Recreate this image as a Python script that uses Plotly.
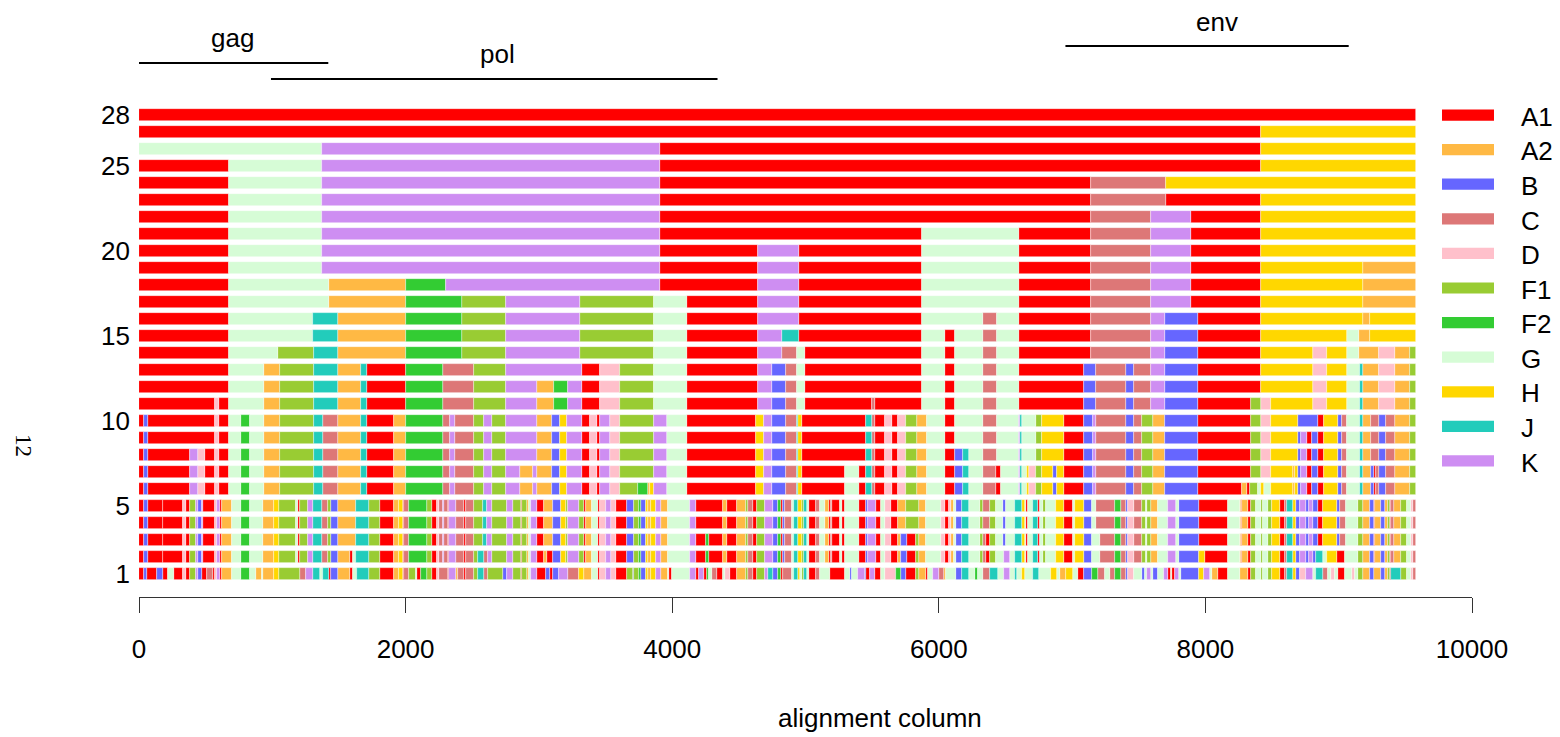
import plotly.graph_objects as go

# ---------------- data ----------------
subtypes = ["A1", "A2", "B", "C", "D", "F1", "F2", "G", "H", "J", "K"]
colors = ["#FF0000", "#FFB944", "#6666FF", "#DD7777", "#FFC0CB", "#99CC33",
          "#33CC33", "#D6FCD6", "#FFD700", "#22CCBB", "#CE8EF2"]

# each row: "subtype:end_column" segments, each segment starts where the previous one ended
row28 = "A1:9580"
row27 = "A1:8415 H:9580"
row26 = "G:1372 K:3912 A1:8415 H:9580"
row25 = "A1:678 G:1372 K:3912 A1:8415 H:9580"
row24 = "A1:678 G:1372 K:3912 A1:7142 C:7702 H:9580"
row23 = "A1:678 G:1372 K:3912 A1:7142 C:7702 A1:8415 H:9580"
row22 = "A1:678 G:1372 K:3912 A1:7142 C:7590 K:7890 A1:8415 H:9580"
row21 = "A1:678 G:1372 K:3912 A1:5872 G:6598 A1:7142 C:7590 K:7890 A1:8415 H:9580"
row20 = "A1:678 G:1372 K:3912 A1:4645 K:4948 A1:5872 G:6598 A1:7142 C:7590 K:7890 A1:8415 H:9580"
row19 = "A1:678 G:1372 K:3912 A1:4645 K:4948 A1:5872 G:6598 A1:7142 C:7590 K:7890 A1:8415 H:9182 A2:9580"
row18 = ("A1:678 G:1429 A2:2002 F2:2303 K:3912 A1:4645 K:4948 A1:5872 G:6598 A1:7142 C:7590 "
         "K:7890 A1:8415 H:9182 A2:9580")
row17 = ("A1:678 G:1429 A2:2002 F2:2423 F1:2752 K:3311 F1:3866 G:4111 A1:4645 K:4948 A1:5872 "
         "G:6598 A1:7142 C:7590 K:7890 A1:8415 H:9182 A2:9580")
row16 = ("A1:678 G:1308 J:1493 A2:2002 F2:2423 F1:2752 K:3311 F1:3866 G:4111 A1:4645 K:4948 "
         "A1:5872 G:6333 C:6434 G:6598 A1:7142 C:7590 K:7696 B:7947 A1:8415 H:9182 A2:9236 H:9580")
row15 = ("A1:678 G:1308 J:1493 A2:2002 F2:2423 F1:2752 K:3311 F1:3866 G:4111 A1:4645 K:4820 "
         "J:4948 A1:5872 G:6046 A1:6119 G:6333 C:6434 G:6598 A1:7142 C:7590 K:7696 B:7947 "
         "A1:8415 H:9059 G:9156 A2:9236 H:9580")
row14 = ("A1:678 G:1042 F1:1310 J:1493 A2:2004 F2:2425 F1:2752 K:3311 F1:3866 G:4111 A1:4645 "
         "K:4823 C:4935 G:4997 A1:5873 G:6046 A1:6119 G:6334 C:6436 G:6598 A1:7141 C:7593 "
         "K:7694 B:7947 A1:8415 H:8805 D:8911 H:9059 G:9156 A2:9303 D:9424 A2:9536 F1:9580")
row13 = ("A1:678 G:934 A2:1055 F1:1310 J:1493 A2:1664 J:1714 A1:2000 F2:2283 C:2513 F1:2752 "
         "K:3327 A1:3458 D:3607 F1:3866 G:4111 A1:4645 K:4751 B:4854 C:4935 G:4997 A1:5873 "
         "G:6046 A1:6119 G:6334 C:6436 G:6598 A1:7089 B:7183 C:7406 B:7465 C:7593 K:7694 "
         "B:7947 A1:8415 H:8805 D:8911 H:9059 G:9160 J:9185 A2:9303 D:9424 A2:9536 F1:9580")
row12 = ("A1:678 G:934 A2:1055 F1:1310 J:1493 A2:1664 J:1714 A1:2000 F2:2283 C:2513 F1:2752 "
         "K:2986 A2:3110 F2:3219 K:3327 A1:3458 D:3607 F1:3866 G:4111 A1:4645 K:4751 B:4854 "
         "C:4935 G:4997 A1:5873 G:6046 A1:6119 G:6334 C:6436 G:6598 A1:7089 B:7183 C:7406 "
         "B:7465 C:7593 K:7694 B:7947 A1:8415 H:8805 D:8911 H:9059 G:9160 J:9185 A2:9303 "
         "D:9424 A2:9536 F1:9580")
row11 = ("A1:570 D:598 A1:678 G:934 A2:1055 F1:1310 J:1493 A2:1664 J:1714 A1:2000 F2:2283 "
         "C:2513 F1:2752 K:2986 A2:3110 F2:3219 K:3327 A1:3458 D:3607 F1:3866 G:4111 A1:4645 "
         "K:4751 B:4854 C:4935 G:4997 A1:5497 C:5525 A1:5873 G:6046 A1:6119 G:6334 C:6436 "
         "G:6598 A1:7089 B:7183 C:7406 B:7465 C:7593 K:7694 B:7947 A1:8339 F1:8415 D:8495 "
         "H:8805 D:8911 H:9059 G:9160 J:9185 A2:9303 D:9424 A2:9536 F1:9580")
row10 = ("A1:41 B:66 A1:570 D:598 A1:678 G:766 F2:834 G:934 A2:1055 F1:1310 J:1378 C:1493 "
         "A2:1664 J:1714 A1:1916 A2:2004 F2:2283 C:2330 K:2373 C:2513 F1:2585 K:2650 F1:2752 "
         "K:2986 A2:3097 B:3160 H:3212 K:3327 A1:3383 D:3436 A1:3458 K:3536 D:3607 F1:3866 "
         "K:3959 G:4111 A1:4627 H:4689 K:4751 B:4854 C:4935 J:4947 H:4972 A1:5454 J:5497 "
         "C:5525 A1:5594 D:5647 A1:5696 D:5752 F1:5833 A2:5911 G:6046 A1:6119 G:6334 C:6436 "
         "G:6598 K:6610 J:6626 G:6732 F1:6775 H:6937 A1:7089 B:7155 K:7183 C:7406 B:7465 "
         "C:7528 F1:7609 A2:7694 B:7947 A1:8339 F1:8415 D:8495 H:8694 B:8843 A1:8886 H:8992 "
         "B:9023 C:9059 G:9160 J:9185 A2:9241 C:9303 B:9353 C:9424 A2:9536 F1:9580")
row09 = ("A1:41 B:66 A1:570 D:598 A1:678 G:766 F2:834 G:934 A2:1055 F1:1310 J:1378 C:1493 "
         "A2:1664 J:1714 A1:1916 A2:2004 F2:2283 C:2330 K:2373 C:2513 F1:2585 K:2650 F1:2752 "
         "K:2986 A2:3097 B:3160 H:3212 K:3327 A1:3383 D:3436 A1:3458 K:3536 D:3607 F1:3866 "
         "K:3959 G:4111 A1:4627 H:4689 K:4751 B:4854 C:4935 J:4947 H:4972 A1:5454 J:5497 "
         "C:5525 A1:5594 D:5647 A1:5696 D:5752 F1:5833 A2:5911 G:6046 A1:6119 G:6334 C:6436 "
         "G:6598 K:6610 J:6626 G:6732 F1:6775 H:6937 A1:7089 B:7155 K:7183 C:7406 B:7465 "
         "C:7528 F1:7609 A2:7694 B:7947 A1:8339 F1:8415 D:8495 H:8694 B:8718 K:8765 A1:8799 "
         "B:8843 A1:8886 H:8992 B:9023 C:9059 G:9160 J:9185 A2:9241 C:9303 B:9353 C:9424 "
         "A2:9536 F1:9580")
row08 = ("A1:41 B:66 A1:383 K:439 D:498 A1:570 D:598 A1:678 G:766 F2:834 G:934 A2:1055 "
         "F1:1310 J:1378 C:1493 A2:1664 J:1714 A1:1916 A2:2004 F2:2283 C:2330 K:2373 C:2513 "
         "F1:2585 K:2650 F1:2752 K:2986 A2:3097 B:3160 H:3212 K:3327 A1:3383 D:3436 A1:3458 "
         "K:3536 D:3607 F1:3866 K:3959 G:4111 A1:4627 H:4689 K:4751 B:4854 C:4935 J:4947 "
         "H:4972 A1:5454 J:5497 C:5525 A1:5594 D:5647 A1:5696 D:5752 F1:5833 A2:5911 G:6046 "
         "A1:6119 B:6185 J:6225 G:6334 C:6436 G:6598 K:6610 J:6626 G:6732 F1:6775 H:6937 "
         "A1:7089 B:7155 K:7183 C:7406 B:7465 C:7528 F1:7609 A2:7694 B:7947 A1:8339 F1:8415 "
         "D:8495 H:8694 B:8718 K:8765 A1:8799 B:8843 A1:8886 H:8992 B:9023 C:9059 G:9160 "
         "J:9185 A2:9241 C:9303 B:9353 C:9424 A2:9536 F1:9580")
row07 = ("A1:41 B:66 A1:383 K:439 D:498 A1:570 D:598 A1:678 G:766 F2:834 G:934 A2:1055 "
         "F1:1310 J:1378 C:1493 A2:1664 J:1714 A1:1916 A2:2004 F2:2283 C:2330 K:2373 C:2513 "
         "F1:2585 K:2650 F1:2752 K:2855 A2:2955 K:2986 A2:3097 B:3160 H:3212 K:3327 A1:3383 "
         "D:3436 A1:3458 K:3536 D:3607 F1:3866 K:3959 G:4111 A1:4627 H:4689 K:4751 B:4854 "
         "C:4935 J:4947 H:4972 A1:5299 G:5401 A1:5454 J:5497 C:5525 A1:5594 D:5647 A1:5696 "
         "D:5752 F1:5833 A2:5911 G:6046 A1:6119 B:6185 J:6225 G:6334 C:6427 A1:6464 G:6598 "
         "K:6610 J:6626 G:6660 H:6676 D:6732 F1:6775 H:6853 B:6887 H:6937 A1:7089 B:7155 "
         "K:7183 C:7406 B:7465 C:7528 F1:7609 A2:7694 B:7947 A1:8339 F1:8415 D:8495 H:8657 "
         "A2:8672 H:8694 B:8718 K:8765 A1:8799 B:8843 A1:8886 H:8992 B:9023 C:9059 G:9160 "
         "J:9185 A2:9241 B:9263 A1:9278 C:9303 B:9353 C:9424 A2:9536 F1:9580")
row06 = ("A1:41 B:66 A1:383 K:439 D:498 A1:570 D:598 A1:678 G:766 F2:834 G:934 A2:1055 "
         "F1:1310 J:1378 C:1493 A2:1664 J:1714 A1:1916 A2:2004 F2:2283 C:2330 K:2373 C:2513 "
         "F1:2585 K:2650 F1:2752 K:2855 A2:2955 K:2986 A2:3097 B:3160 H:3212 K:3327 A1:3383 "
         "D:3436 A1:3458 K:3536 D:3607 F1:3744 F2:3819 A2:3837 H:3866 K:3959 G:4111 A1:4627 "
         "H:4689 K:4751 B:4854 C:4935 J:4947 H:4972 A1:5299 G:5401 A1:5454 J:5497 C:5525 "
         "A1:5594 D:5647 A1:5696 D:5752 F1:5833 A2:5911 G:6046 A1:6119 B:6185 J:6225 G:6334 "
         "C:6427 A1:6464 G:6598 K:6610 J:6626 G:6660 H:6676 D:6732 F1:6775 H:6853 B:6887 "
         "H:6937 A1:7089 B:7155 K:7183 C:7406 B:7465 C:7528 F1:7609 A2:7694 B:7947 A1:8277 "
         "A2:8314 A1:8333 F1:8392 G:8415 H:8438 G:8495 H:8657 A2:8672 H:8694 B:8718 K:8765 "
         "A1:8799 B:8843 A1:8886 H:8992 B:9023 C:9059 G:9160 J:9185 A2:9241 B:9263 A1:9278 "
         "C:9303 B:9353 C:9424 A2:9536 F1:9580")
row05 = ("A1:40 B:65 A1:180 A1:328 D:353 A1:383 F1:428 K:440 B:470 K:483 A1:570 D:588 K:605 "
         "A1:625 A2:698 G:765 F2:832 G:932 A2:1015 H:1053 F1:1178 G:1190 A1:1205 F1:1265 "
         "K:1308 J:1375 C:1420 F1:1443 B:1495 A2:1625 J:1728 F1:1808 A1:1915 A2:1948 H:1978 "
         "A1:1988 C:2028 F2:2163 F1:2195 A1:2238 D:2253 C:2283 K:2290 C:2320 A1:2328 K:2378 "
         "C:2440 A1:2450 C:2515 F1:2583 J:2608 K:2650 F1:2758 K:2808 F1:2865 A1:2875 F1:2908 "
         "A2:2925 G:2940 K:2983 A1:3038 A2:3103 B:3165 H:3203 F1:3220 K:3300 F1:3340 A1:3350 "
         "A2:3400 G:3440 A1:3455 D:3500 K:3540 D:3575 A1:3658 B:3715 F1:3750 F2:3765 B:3800 "
         "H:3820 A2:3840 H:3878 K:3915 A2:3965 G:4135 K:4175 A1:4383 A2:4408 A1:4483 A2:4553 "
         "F1:4570 C:4603 A1:4633 F1:4695 K:4753 B:4790 F2:4815 A1:4828 B:4848 C:4900 G:4912 "
         "J:4945 H:4970 F1:4987 J:5012 G:5027 A1:5077 C:5107 G:5145 A2:5177 A1:5190 C:5202 "
         "A1:5262 G:5277 A1:5295 G:5400 A1:5452 B:5470 K:5532 A1:5570 G:5595 D:5645 A1:5695 "
         "A2:5752 F1:5852 A2:5907 G:6020 D:6045 A1:6077 D:6090 A2:6112 G:6132 B:6177 J:6227 "
         "G:6307 F1:6332 C:6387 F1:6432 G:6482 B:6507 G:6570 J:6627 H:6645 G:6657 A1:6670 "
         "G:6707 J:6745 A1:6762 G:6782 F1:6802 G:6882 H:6937 A1:7007 G:7020 H:7087 B:7152 "
         "G:7182 C:7320 F2:7365 C:7402 B:7420 D:7465 C:7525 F1:7557 G:7565 F1:7595 A2:7645 "
         "G:7720 K:7782 G:7800 B:7950 A1:8170 G:8257 A2:8270 A1:8275 A2:8320 A1:8340 F1:8382 "
         "G:8420 F1:8432 G:8470 F1:8500 H:8557 A1:8595 C:8615 J:8657 H:8682 B:8707 K:8757 "
         "B:8775 K:8807 B:8845 A1:8882 H:8990 B:9007 C:9057 G:9145 F1:9182 A2:9232 B:9265 "
         "A1:9275 A2:9320 B:9345 A2:9370 F1:9382 A1:9390 C:9415 A2:9465 F1:9515 G:9540 "
         "D:9557 C:9580")
row04 = row05
row03 = ("A1:40 B:65 A1:180 A1:328 D:353 A1:383 F1:428 K:440 B:470 K:483 A1:570 D:588 K:605 "
         "A1:625 A2:698 G:765 F2:832 G:932 A2:1015 H:1053 F1:1178 G:1190 A1:1205 F1:1265 "
         "K:1308 J:1375 C:1420 F1:1443 B:1495 A2:1625 J:1728 F1:1808 A1:1915 A2:1948 H:1978 "
         "A1:1988 C:2028 F2:2163 F1:2195 A1:2238 D:2253 C:2283 K:2290 C:2320 A1:2328 K:2378 "
         "C:2440 A1:2450 C:2515 F1:2583 J:2608 K:2650 F1:2758 K:2808 F1:2865 A1:2875 F1:2908 "
         "A2:2925 G:2940 K:2983 A1:3038 A2:3103 B:3165 H:3203 F1:3220 K:3300 F1:3340 A1:3350 "
         "A2:3400 G:3440 A1:3455 D:3500 K:3540 D:3575 A1:3658 B:3715 F1:3750 F2:3765 B:3800 "
         "H:3820 A2:3840 H:3878 K:3915 A2:3965 G:4135 K:4175 A1:4250 F2:4275 A1:4383 A2:4408 "
         "A1:4483 A2:4553 F1:4570 C:4603 A1:4633 F1:4695 K:4753 B:4790 F2:4815 A1:4828 B:4848 "
         "C:4900 G:4912 J:4945 H:4970 F1:4987 J:5012 G:5027 A1:5077 C:5107 G:5145 A2:5177 "
         "A1:5190 C:5202 A1:5262 G:5277 A1:5295 G:5400 A1:5452 B:5470 K:5532 A1:5570 G:5595 "
         "D:5645 A1:5695 A2:5720 B:5762 A1:5832 F1:5852 A2:5907 G:6020 D:6045 A1:6077 D:6090 "
         "A2:6112 G:6132 B:6177 J:6227 G:6307 F1:6332 C:6357 A1:6387 F1:6432 G:6482 B:6507 "
         "G:6570 J:6627 H:6645 G:6657 A1:6670 G:6707 J:6745 A1:6762 G:6782 F1:6802 G:6882 "
         "H:6937 A1:7007 G:7020 H:7087 B:7152 G:7207 C:7320 F2:7365 C:7402 B:7420 D:7465 "
         "C:7525 F1:7557 G:7565 F1:7595 A2:7645 G:7720 K:7782 G:7800 B:7950 A1:8170 G:8257 "
         "A2:8270 A1:8275 A2:8320 A1:8340 F1:8382 G:8420 F1:8432 G:8470 F1:8500 H:8557 "
         "A1:8595 C:8615 J:8657 H:8682 B:8707 K:8757 B:8775 K:8807 B:8845 A1:8882 H:8990 "
         "B:9007 C:9057 G:9145 F1:9182 A2:9232 B:9265 A1:9275 A2:9320 B:9345 A2:9370 F1:9382 "
         "A1:9390 C:9415 A2:9465 F1:9515 G:9540 D:9557 C:9580")
row02 = ("A1:40 B:65 A1:180 A1:328 D:353 A1:383 F1:428 K:440 B:470 K:483 A1:570 D:588 K:605 "
         "A1:625 A2:698 G:765 F2:832 G:932 A2:1015 H:1053 F1:1178 G:1190 A1:1205 F1:1265 "
         "K:1308 J:1375 C:1420 F1:1443 B:1495 A2:1583 A1:1603 G:1625 J:1728 F1:1808 A1:1915 "
         "A2:1948 H:1978 A1:1988 C:2028 F2:2163 F1:2195 A1:2238 D:2253 C:2283 K:2290 C:2320 "
         "A1:2328 K:2378 C:2440 A1:2450 C:2515 F1:2545 J:2590 C:2620 K:2650 F1:2758 K:2808 "
         "F1:2865 A1:2875 F1:2908 A2:2925 G:2940 K:2983 A1:3040 A2:3058 A1:3103 B:3165 H:3203 "
         "F1:3220 K:3300 F1:3340 A1:3350 A2:3400 G:3440 A1:3455 D:3500 K:3540 D:3575 A1:3658 "
         "B:3715 F1:3750 F2:3765 B:3800 H:3820 A2:3840 H:3878 K:3915 A2:3965 G:4135 K:4175 "
         "A1:4250 F2:4275 A1:4383 A2:4408 A1:4483 A2:4553 F1:4570 C:4603 A1:4633 F1:4695 "
         "K:4753 B:4790 F2:4815 A1:4828 B:4848 C:4900 G:4912 J:4945 H:4970 F1:4987 J:5012 "
         "G:5027 A1:5077 C:5107 G:5145 A2:5177 A1:5190 C:5202 A1:5262 G:5277 A1:5295 G:5400 "
         "A1:5452 B:5470 K:5532 A1:5570 G:5595 D:5645 A1:5695 A2:5720 B:5762 A1:5832 F1:5852 "
         "A2:5907 G:6020 D:6045 A1:6077 D:6090 A2:6112 G:6132 B:6177 J:6227 G:6307 F1:6332 "
         "C:6357 A1:6387 F1:6432 G:6487 K:6532 G:6570 J:6627 H:6645 G:6657 A1:6670 G:6707 "
         "J:6745 A1:6762 G:6782 F1:6802 G:6882 H:6937 A1:7007 G:7020 H:7087 B:7152 G:7207 "
         "C:7320 F2:7365 C:7402 B:7420 D:7465 C:7525 F1:7557 G:7565 F1:7595 A2:7645 G:7720 "
         "K:7782 G:7800 B:7950 H:7995 A1:8170 G:8257 A2:8270 A1:8275 A2:8320 A1:8340 F1:8382 "
         "G:8420 F1:8432 G:8470 F1:8500 H:8557 A1:8595 C:8615 J:8657 H:8682 B:8707 K:8757 "
         "B:8775 K:8807 B:8832 J:8882 G:8912 H:8990 A1:9050 G:9145 F1:9182 A2:9232 B:9265 "
         "A1:9275 A2:9320 B:9345 A2:9370 F1:9382 A1:9390 C:9415 A2:9465 F1:9515 G:9540 "
         "D:9557 C:9580")
row01 = ("A1:37 B:60 A1:135 B:180 A1:218 G:262 A1:328 D:353 A1:383 F1:428 K:440 B:470 "
         "A1:507 C:557 A1:570 D:588 K:605 A1:625 A2:698 G:765 F2:832 G:878 A2:923 G:932 "
         "A2:1015 H:1053 F1:1208 C:1253 K:1303 J:1358 G:1378 J:1428 A1:1440 B:1495 A2:1583 "
         "A1:1603 G:1633 J:1728 F1:1808 A1:1915 A2:1948 H:1978 A1:1988 C:2028 F1:2075 G:2083 "
         "A1:2113 F2:2163 F1:2195 A1:2238 D:2253 C:2320 A1:2328 K:2378 A2:2390 C:2440 A1:2450 "
         "C:2515 F1:2545 J:2590 C:2620 F1:2728 B:2758 K:2808 F1:2865 A1:2875 F1:2908 A2:2925 "
         "G:2940 K:2983 A1:3053 B:3083 A1:3103 B:3150 K:3215 C:3300 H:3340 A2:3400 G:3440 "
         "A1:3455 D:3500 K:3540 D:3575 A1:3658 F1:3708 B:3715 F1:3750 F2:3765 B:3800 H:3820 "
         "A2:3840 H:3878 K:3915 A2:3965 G:3975 A1:4000 G:4135 K:4175 A1:4200 K:4240 A1:4258 "
         "F2:4275 G:4295 C:4333 A1:4383 G:4395 D:4433 A1:4483 A2:4553 F1:4570 C:4603 A1:4633 "
         "F1:4695 K:4720 J:4757 B:4790 F2:4815 A1:4828 C:4902 G:4912 J:4945 H:4962 G:4970 "
         "F1:4987 J:5012 G:5027 A1:5077 C:5107 G:5182 A1:5295 G:5337 B:5352 G:5395 K:5445 "
         "B:5457 A1:5482 K:5520 A1:5570 G:5595 D:5682 F2:5720 B:5757 A1:5832 F1:5852 A2:5902 "
         "A1:5920 G:5957 K:6002 C:6037 A2:6057 G:6132 B:6177 J:6227 G:6270 F2:6295 G:6332 "
         "C:6387 J:6445 G:6487 K:6532 G:6570 J:6587 G:6627 H:6645 G:6707 J:6752 G:6845 "
         "H:6887 G:6907 A2:6957 H:7007 G:7045 A1:7087 B:7152 F2:7195 C:7245 G:7282 C:7320 "
         "F2:7365 C:7402 B:7420 D:7465 G:7525 B:7550 G:7565 K:7595 G:7607 B:7645 G:7690 "
         "K:7720 A1:7740 G:7752 A1:7770 K:7800 G:7815 B:7950 H:7990 K:8032 G:8050 A2:8095 "
         "A1:8170 G:8257 A2:8320 A1:8340 F1:8382 G:8420 F1:8432 G:8470 F1:8500 H:8557 "
         "A1:8595 C:8615 J:8657 H:8682 B:8707 D:8757 K:8807 G:8832 J:8882 C:8920 G:8945 "
         "D:8970 G:8995 A1:9045 G:9100 D:9120 G:9145 F1:9182 A2:9232 B:9265 A2:9320 B:9345 "
         "A2:9370 F1:9382 A1:9390 J:9465 F1:9515 G:9540 D:9557 C:9580")

row_levels = list(range(1, 29))
row_segments = [row01, row02, row03, row04, row05, row06, row07, row08, row09, row10,
                row11, row12, row13, row14, row15, row16, row17, row18, row19, row20,
                row21, row22, row23, row24, row25, row26, row27, row28]

genes = ["gag", "pol", "env"]
gene_start = [0, 990, 6950]
gene_end = [1420, 4340, 9075]
gene_level = [31.06, 30.12, 32.06]
gene_label_x = [700, 2690, 8090]
gene_label_level = [32.53, 31.59, 33.47]

x_ticks = [0, 2000, 4000, 6000, 8000, 10000]
x_tick_labels = ["0", "2000", "4000", "6000", "8000", "10000"]
y_ticks = [1, 5, 10, 15, 20, 25, 28]
x_title = "alignment column"
y_title = "12"

# ---------------- build ----------------
FONT = "Liberation Sans, Arial, Helvetica, sans-serif"
FS = 26
per_sub = {s: {"y": [], "base": [], "len": []} for s in subtypes}
for lvl, seg_text in zip(row_levels, row_segments):
    start = 0
    for tok in seg_text.split():
        sub, end = tok.split(":")
        end = float(end)
        d = per_sub[sub]
        d["y"].append(lvl)
        d["base"].append(start)
        d["len"].append(end - start)
        start = end

fig = go.Figure()
for sub, col in zip(subtypes, colors):
    d = per_sub[sub]
    fig.add_trace(go.Bar(
        orientation="h", y=d["y"], x=d["len"], base=d["base"], width=0.66,
        marker=dict(color=col, line=dict(color="rgba(255,255,255,0.55)", width=0.7)),
        name=sub, showlegend=False, hoverinfo="skip"))

for g, s, e, lv, lx, ll in zip(genes, gene_start, gene_end, gene_level,
                               gene_label_x, gene_label_level):
    fig.add_trace(go.Scatter(x=[s, e], y=[lv, lv], mode="lines",
                             line=dict(color="black", width=2), showlegend=False,
                             hoverinfo="skip"))
    fig.add_annotation(x=lx, y=ll, xref="x", yref="y", text=g,
                       showarrow=False, yanchor="middle",
                       font=dict(size=FS, family=FONT, color="black"))

# legend (drawn beside the plot)
shapes = []
for i, (sub, col) in enumerate(zip(subtypes, colors)):
    yc = 28 - 2.035 * i
    shapes.append(dict(type="rect", xref="paper", yref="y", x0=0.9775, x1=1.0165,
                       y0=yc - 0.33, y1=yc + 0.33, fillcolor=col, line=dict(width=0),
                       layer="above"))
    fig.add_annotation(x=1.035, y=yc - 0.1, xref="paper", yref="y", text=sub,
                       xanchor="left", yanchor="middle", showarrow=False,
                       font=dict(size=FS, family=FONT, color="black"))

fig.add_annotation(x=0.556, y=-0.206, xref="paper", yref="paper", text=x_title,
                   xanchor="center", yanchor="middle", showarrow=False,
                   font=dict(size=FS, family=FONT, color="black"))
fig.add_annotation(x=-0.087, y=0.259, xref="paper", yref="paper", text=y_title,
                   xanchor="center", yanchor="middle", textangle=90, showarrow=False,
                   font=dict(size=23, family="Liberation Serif, Times New Roman, serif",
                             color="black"))

fig.update_layout(
    width=1552, height=729, barmode="overlay", bargap=0,
    margin=dict(l=131, r=88, t=2, b=140),
    paper_bgcolor="white", plot_bgcolor="white",
    font=dict(family=FONT, size=FS, color="black"),
    shapes=shapes,
    xaxis=dict(range=[0, 10000], tickvals=x_ticks, ticktext=x_tick_labels,
               ticks="outside", ticklen=15,
               tickcolor="#333", showline=True, linecolor="#333", linewidth=1,
               showgrid=False, zeroline=False, ticklabelstandoff=14,
               tickfont=dict(size=FS)),
    yaxis=dict(range=[-0.353, 34.18], tickvals=y_ticks, ticks="", showline=False,
               showgrid=False, zeroline=False, ticklabelstandoff=8,
               tickfont=dict(size=FS)),
)

fig.write_html("out.html")
